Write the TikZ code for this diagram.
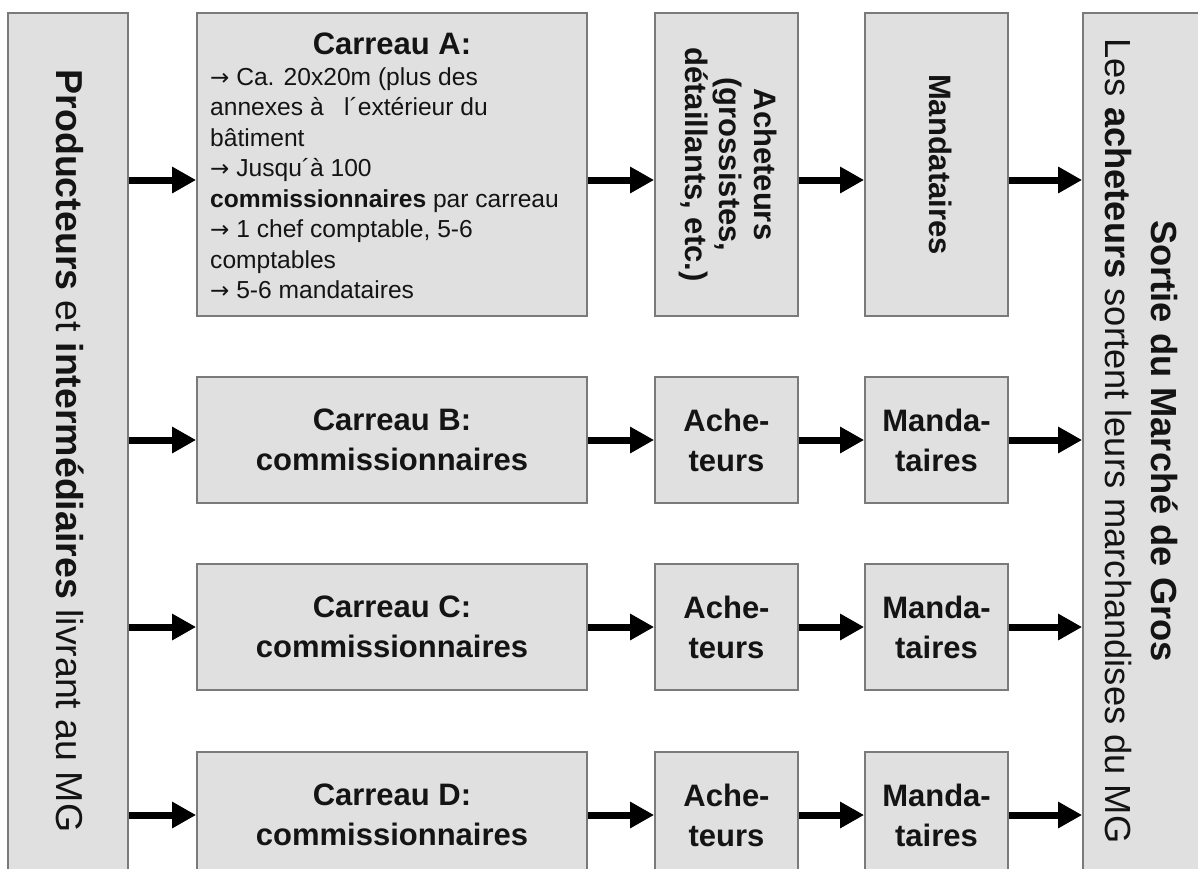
\documentclass[tikz,border=0pt]{standalone}
\usepackage{fontspec}
\usepackage{graphicx}
\setmainfont{Liberation Sans}
\newfontfamily\arrowfamily{DejaVu Sans}
\usetikzlibrary{arrows.meta}
\definecolor{boxfill}{HTML}{E0E0E0}
\definecolor{boxline}{HTML}{7A7A7A}
\definecolor{ink}{HTML}{141414}
\newcommand{\sidefont}{\fontsize{37.5}{46}\selectfont}
\newcommand{\exitfont}{\fontsize{36.3}{46}\selectfont}
\newcommand{\headfont}{\fontsize{31}{40}\selectfont}
\newcommand{\notefont}{\fontsize{24.6}{30.5}\selectfont}
\newcommand{\narrowfont}{\fontsize{31}{34.5}\selectfont}
\newcommand{\vtext}[1]{\rotatebox{-90}{\begin{tabular}{@{}c@{}}#1\end{tabular}}}
\newcommand{\bulletarrow}{{\arrowfamily\fontsize{23}{30.5}\selectfont →}}

\begin{document}
\begin{tikzpicture}[x=1pt,y=-1pt,
  box/.style={draw=boxline,fill=boxfill,line width=1.8pt,inner sep=0pt,text=ink,align=center},
  flow/.style={draw=black,line width=7pt,-{Triangle[length=24pt,width=25pt]}},
  label/.style={inner sep=0pt,text=ink}]
\useasboundingbox (0,0) rectangle (1198,868);
\clip (0,0) rectangle (1198,868);

% side columns: suppliers on the left, exit of the market on the right
\node[box,minimum width=120pt,minimum height=868pt] (prod) at (68,447) {};
\node[label] (prodtxt) at (66,451) {\sidefont\vtext{\textbf{Producteurs} et \textbf{intermédiaires} livrant au MG}};
\node[box,minimum width=130pt,minimum height=868pt] (exit) at (1148,447) {};
\node[label] (exittxt) at (1138,441) {\exitfont\vtext{\textbf{Sortie du Marché de Gros}\\Les \textbf{acheteurs} sortent leurs marchandises du MG}};

% row A, described in detail
\node[box,minimum width=390pt,minimum height=303pt] (carA) at (392,164.5) {};
\node[label,anchor=base] (carAhead) at (392,54) {\headfont\bfseries Carreau A:};
\node[label,anchor=base west] (carAbody) at (210,85) {\notefont\begin{tabular}[t]{@{}l@{}}
\bulletarrow{} Ca. 20x20m (plus des\\
annexes à\ \ \ l´extérieur du\\
bâtiment\\
\bulletarrow{} Jusqu´à 100\\
\textbf{commissionnaires} par carreau\\
\bulletarrow{} 1 chef comptable, 5-6\\
comptables\\
\bulletarrow{} 5-6 mandataires
\end{tabular}};
\node[box,minimum width=143pt,minimum height=303pt] (achA) at (726.5,164.5) {\narrowfont\bfseries\vtext{Acheteurs\\(grossistes,\\détaillants, etc.)}};
\node[box,minimum width=143pt,minimum height=303pt] (manA) at (936.5,164.5) {\narrowfont\bfseries\vtext{Mandataires}};

\coordinate (rowA) at (0,180);
\draw[flow] (prod.east |- rowA) -- (carA.west |- rowA);
\draw[flow] (carA.east |- rowA) -- (achA.west |- rowA);
\draw[flow] (achA.east |- rowA) -- (manA.west |- rowA);
\draw[flow] (manA.east |- rowA) -- (exit.west |- rowA);

% rows B to D
\foreach \r/\y in {B/440,C/627,D/815}{
  \node[box,minimum width=390pt,minimum height=126pt,font=\headfont\bfseries] (car\r) at (392,\y) {Carreau \r:\\commissionnaires};
  \node[box,minimum width=143pt,minimum height=126pt,font=\headfont\bfseries] (ach\r) at (726.5,\y) {Ache-\\teurs};
  \node[box,minimum width=143pt,minimum height=126pt,font=\headfont\bfseries] (man\r) at (936.5,\y) {Manda-\\taires};
  \draw[flow] (prod.east |- car\r) -- (car\r.west);
  \draw[flow] (car\r.east) -- (ach\r.west);
  \draw[flow] (ach\r.east) -- (man\r.west);
  \draw[flow] (man\r.east) -- (exit.west |- man\r);
}
\end{tikzpicture}
\end{document}
